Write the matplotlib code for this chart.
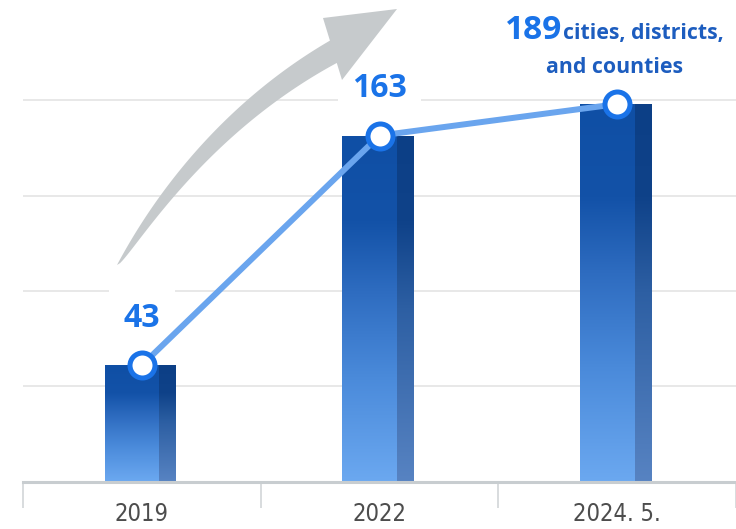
import numpy as np
import matplotlib
matplotlib.use("Agg")
import matplotlib.pyplot as plt
from matplotlib.colors import LinearSegmentedColormap
from matplotlib.patches import Polygon
from matplotlib.offsetbox import TextArea, HPacker, VPacker, AnnotationBbox

# ---------------- data ----------------
categories = ["2019", "2022", "2024. 5."]
values = [43, 163, 189]
bar_heights = [1.22, 3.63, 3.96]          # bar tops (grid units)
unit_line1 = "cities, districts,"
unit_line2 = "and counties"
grid_levels = [1, 2, 3, 4]

NUM_FONT = ["Open Sans", "DejaVu Sans"]
TICK_FONT = ["DejaVu Sans"]

fig = plt.figure(figsize=(7.36, 5.29), dpi=100)
W, H = 736, 529
ax = fig.add_axes([23 / W, (H - 481.5) / H, 713 / W, 476.5 / H])
ax.set_xlim(-0.5, 2.5)
ax.set_ylim(0, 5)

# grid
ax.set_yticks(grid_levels)
ax.yaxis.grid(True, color="#e6e6e6", lw=1.3)
ax.set_axisbelow(True)
ax.tick_params(axis="y", left=False, labelleft=False)
for s in ["left", "right", "top"]:
    ax.spines[s].set_visible(False)
ax.spines["bottom"].set_color("#c8cdd0")
ax.spines["bottom"].set_linewidth(2.2)

x = np.arange(len(categories))
ax.set_xticks(x)
ax.set_xticklabels(categories, fontsize=17, color="#4d4d4d", family=TICK_FONT,
                   fontstretch="condensed")
ax.tick_params(axis="x", which="major", length=0, pad=15)
ax.set_xticks(np.arange(-0.5, len(categories), 1.0), minor=True)
ax.tick_params(axis="x", which="minor", length=19, width=1.2, color="#d2d6d8", direction="out")

# gradient bars
cmap_face = LinearSegmentedColormap.from_list(
    "face", [(0, "#6ba8f0"), (0.3, "#4a8ada"), (0.55, "#2e6cc0"), (0.75, "#1352a8"), (1, "#0f4fa5")])
cmap_side = LinearSegmentedColormap.from_list(
    "side", [(0, "#5783c2"), (0.5, "#2d5fa3"), (0.75, "#0f4289"), (1, "#0c3f86")])
grad = np.linspace(0, 1, 256).reshape(-1, 1)

left_off, split_off, right_off = -0.157, 0.074, 0.143
faces = ax.bar(x + left_off, bar_heights, width=split_off - left_off, align="edge",
               facecolor="none", edgecolor="none", zorder=2)
sides = ax.bar(x + split_off, bar_heights, width=right_off - split_off, align="edge",
               facecolor="none", edgecolor="none", zorder=2)
for patches, cmap in [(faces, cmap_face), (sides, cmap_side)]:
    for p in patches:
        x0, w, h = p.get_x(), p.get_width(), p.get_height()
        im = ax.imshow(grad, extent=[x0, x0 + w, 0, h], origin="lower", aspect="auto",
                       cmap=cmap, interpolation="bilinear", zorder=2)
        im.set_clip_path(p)
ax.set_xlim(-0.5, 2.5)
ax.set_ylim(0, 5)

# line + markers
ax.plot(x, bar_heights, color="#6aa5ee", lw=4.3, zorder=4, solid_capstyle="round")
ax.plot(x, bar_heights, "o", ms=18, mfc="white", mec="#1a73e8", mew=3.6, zorder=5)

# value labels
for i in range(2):
    ax.annotate(str(values[i]), (x[i], bar_heights[i]), xytext=(0, 34),
                textcoords="offset points", ha="center", va="center",
                fontsize=23, fontweight="bold", color="#1a73e8", family=NUM_FONT,
                bbox=dict(boxstyle="square,pad=0.45", fc="white", ec="none"), zorder=3)

ta1 = TextArea(str(values[2]), textprops=dict(fontsize=24, fontweight="bold",
                                              color="#1a73e8", family=NUM_FONT))
ta2 = TextArea(unit_line1, textprops=dict(fontsize=15.3, fontweight="bold",
                                         color="#1d5dbf", family=NUM_FONT))
row1 = HPacker(children=[ta1, ta2], align="baseline", pad=0, sep=0)
ta3 = TextArea(unit_line2, textprops=dict(fontsize=15.3, fontweight="bold",
                                         color="#1d5dbf", family=NUM_FONT))
block = VPacker(children=[row1, ta3], align="center", pad=0, sep=7)
ab = AnnotationBbox(block, (x[2], bar_heights[2]), xybox=(-2, 42), boxcoords="offset points",
                    frameon=False, box_alignment=(0.5, 0.5), zorder=6)
ax.add_artist(ab)

# decorative curved arrow (figure pixel space)
def px(pts):
    pts = np.asarray(pts, float)
    return np.column_stack([pts[:, 0] / W, 1 - pts[:, 1] / H])

P0 = np.array([117, 265.])
P3 = np.array([331, 40.])
C1 = P0 + 105 * np.array([0.47, -0.88])
C2 = P3 - 105 * np.array([0.866, -0.5])
t = np.linspace(0, 1, 100)[:, None]
upper = ((1 - t) ** 3 * P0 + 3 * (1 - t) ** 2 * t * C1
         + 3 * (1 - t) * t ** 2 * C2 + t ** 3 * P3)
d = (3 * (1 - t) ** 2 * (C1 - P0) + 6 * (1 - t) * t * (C2 - C1) + 3 * t ** 2 * (P3 - C2))
d = d / np.linalg.norm(d, axis=1, keepdims=True)
n_down = np.column_stack([-d[:, 1], d[:, 0]])   # points to the lower-right side
wdt = 23 * t[:, 0] ** 0.55
lower = upper + n_down * wdt[:, None]
body = np.vstack([upper, lower[::-1]])
arrow_col = "#c6cacc"
fig.add_artist(Polygon(px(body), closed=True, transform=fig.transFigure,
                       fc=arrow_col, ec="none", zorder=7))
fig.add_artist(Polygon(px([[323, 18], [397, 9], [342, 80]]), closed=True,
                       transform=fig.transFigure, fc=arrow_col, ec="none", zorder=7))

fig.savefig("out.png", dpi=100)
